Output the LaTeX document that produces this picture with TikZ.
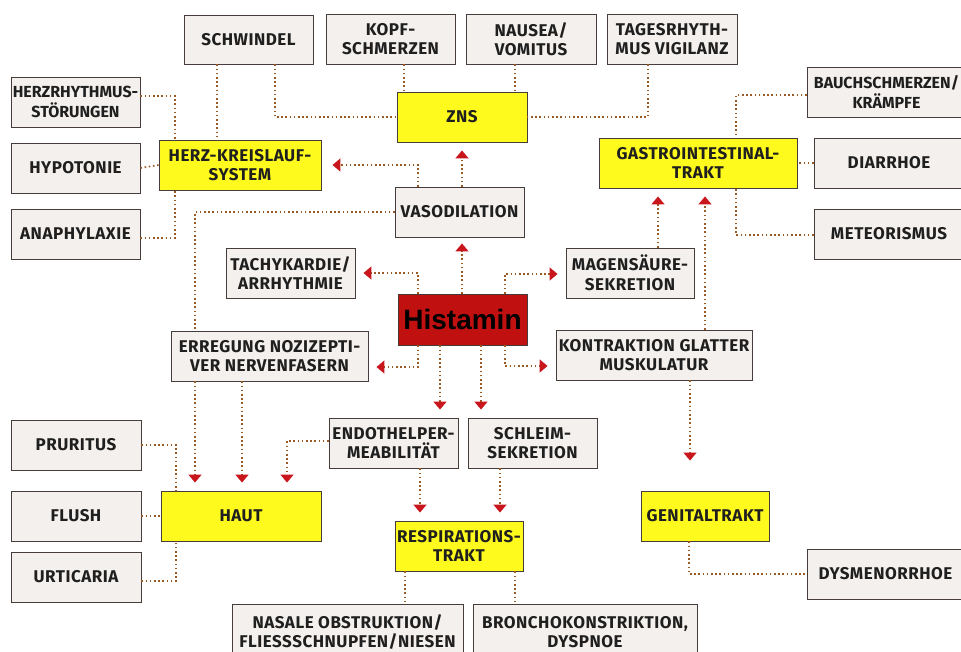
\documentclass[tikz,border=0pt]{standalone}
\usepackage{fontspec}
\setmainfont{Fira Sans}[LetterSpace=3]
\newfontfamily\histfont{Liberation Sans}
\newfontfamily\tightfont{Fira Sans}[LetterSpace=0]
\usetikzlibrary{arrows.meta}
\definecolor{boxfill}{RGB}{243,240,237}
\definecolor{boxline}{RGB}{70,60,60}
\definecolor{yel}{RGB}{255,250,30}
\definecolor{histred}{RGB}{192,16,15}
\definecolor{dotcol}{RGB}{155,90,35}
\definecolor{arrred}{RGB}{200,22,28}
\newcommand{\bx}[7][box]{%
  \node[#1, minimum width=#5-#3, minimum height=#6-#4] (#2) at ({(#3+#5)/2},{(#4+#6)/2}) {#7};}
\begin{document}
\begin{tikzpicture}[x=1pt,y=-1pt,
  box/.style={draw=boxline, fill=boxfill, line width=0.9pt, inner sep=0pt, align=center,
    font=\bfseries\fontsize{17}{19.5}\selectfont, text=black!88},
  tbox/.style={box, font=\tightfont\bfseries\fontsize{16}{19.5}\selectfont},
  ybox/.style={box, fill=yel},
  hbox/.style={box, fill=histred, font=\histfont\bfseries\fontsize{28}{30}\selectfont, text=black},
  con/.style={draw=dotcol, line width=1.7pt, dash pattern=on 1.6pt off 2.6pt},
  arr/.style={con, -{Triangle[width=13pt,length=8pt,color=arrred]}, shorten >=8pt}]
\useasboundingbox (0,0) rectangle (961,651);
\fill[white] (0,0) rectangle (961,651);
% nodes
\bx{sch}{184}{15}{313}{64}{SCHWINDEL}
\bx{kopf}{326}{14}{455}{64}{KOPF-\\SCHMERZEN}
\bx{nau}{466}{14}{596}{64}{NAUSEA/\\VOMITUS}
\bx{tag}{607}{14}{737}{64}{TAGESRHYTH-\\MUS VIGILANZ}
\bx[tbox]{hrs}{11}{77}{140}{127}{HERZRHYTHMUS-\\STÖRUNGEN}
\bx[ybox]{zns}{397}{92}{527}{142}{ZNS}
\bx[tbox]{bau}{807}{67}{966}{117}{BAUCHSCHMERZEN/\\KRÄMPFE}
\bx{hyp}{11}{143}{140}{193}{HYPOTONIE}
\bx[ybox]{hks}{159}{140}{321}{190}{HERZ-KREISLAUF-\\SYSTEM}
\bx[ybox]{git}{599}{138}{797}{188}{GASTROINTESTINAL-\\TRAKT}
\bx{dia}{814}{138}{964}{188}{DIARRHOE}
\bx{vas}{395}{187}{524}{237}{VASODILATION}
\bx{ana}{11}{209}{140}{259}{ANAPHYLAXIE}
\bx{met}{814}{209}{964}{259}{METEORISMUS}
\bx{tach}{226}{248}{355}{298}{TACHYKARDIE/\\ARRHYTHMIE}
\bx{mag}{566}{248}{694}{298}{MAGENSÄURE-\\SEKRETION}
\bx[hbox]{his}{398}{294}{527}{345}{Histamin}
\bx{err}{171}{331}{368}{381}{ERREGUNG NOZIZEPTI-\\VER NERVENFASERN}
\bx{kon}{556}{330}{752}{380}{KONTRAKTION GLATTER\\MUSKULATUR}
\bx{endo}{329}{418}{458}{468}{ENDOTHELPER-\\MEABILITÄT}
\bx{schl}{468}{418}{597}{468}{SCHLEIM-\\SEKRETION}
\bx{pru}{11}{420}{141}{470}{PRURITUS}
\bx{flu}{11}{491}{141}{541}{FLUSH}
\bx[ybox]{haut}{161}{491}{321}{541}{HAUT}
\bx[ybox]{gen}{641}{491}{769}{541}{GENITALTRAKT}
\bx[ybox]{resp}{395}{521}{523}{571}{RESPIRATIONS-\\TRAKT}
\bx{urt}{11}{552}{141}{602}{URTICARIA}
\bx{dys}{807}{549}{964}{599}{DYSMENORRHOE}
\bx{nas}{232}{604}{463}{660}{NASALE OBSTRUKTION/\\FLIESSSCHNUPFEN/NIESEN}
\bx{bro}{473}{604}{697}{660}{BRONCHOKONSTRIKTION,\\DYSPNOE}
% plain dotted connectors
\draw[con] (217,0 |- sch.south) -- (217,0 |- hks.north);
\draw[con] (275,0 |- sch.south) |- (zns.west);
\draw[con] (404,0 |- kopf.south) -- (404,0 |- zns.north);
\draw[con] (515,0 |- nau.south) -- (515,0 |- zns.north);
\draw[con] (648,0 |- tag.south) |- (zns.east);
\draw[con] (hrs.east |- 0,96) -| (175,0 |- hks.north);
\draw[con] (hyp.east) -- (hks.west);
\draw[con] (ana.east |- 0,238) -| (175,0 |- hks.south);
\draw[con] (bau.west |- 0,95) -| (736,0 |- git.north);
\draw[con] (dia.west |- git.east) -- (git.east);
\draw[con] (met.west |- 0,235) -| (736,0 |- git.south);
\draw[con] (pru.east |- 0,445) -| (176,0 |- haut.north);
\draw[con] (flu.east) -- (haut.west);
\draw[con] (urt.east |- 0,581) -| (176,0 |- haut.south);
\draw[con] (689,0 |- gen.south) |- (dys.west);
\draw[con] (405,0 |- resp.south) -- (405,0 |- nas.north);
\draw[con] (515,0 |- resp.south) -- (515,0 |- bro.north);
\draw[con] (vas.west) -| (195,0 |- err.north);
% arrows
\draw[arr, shorten >=6pt] (462,0 |- his.north) -- (462,0 |- vas.south);
\draw[arr] (462,0 |- vas.north) -- (462,0 |- zns.south);
\draw[arr, shorten >=11pt] (418,0 |- vas.north) |- (hks.east);
\draw[arr] (195,0 |- err.south) -- (195,0 |- haut.north);
\draw[arr] (242,0 |- err.south) -- (242,0 |- haut.north);
\draw[arr] (418,0 |- his.north) |- (tach.east);
\draw[arr] (418,0 |- his.south) |- (err.east |- 0,367);
\draw[arr] (505,0 |- his.north) |- (mag.west |- 0,274);
\draw[arr] (505,0 |- his.south) |- (kon.west |- 0,366);
\draw[arr] (440,0 |- his.south) -- (440,0 |- endo.north);
\draw[arr] (481,0 |- his.south) -- (481,0 |- schl.north);
\draw[arr] (endo.west |- 0,441) -| (287,0 |- haut.north);
\draw[arr] (420,0 |- endo.south) -- (420,0 |- resp.north);
\draw[arr] (500,0 |- schl.south) -- (500,0 |- resp.north);
\draw[arr] (658,0 |- mag.north) -- (658,0 |- git.south);
\draw[arr] (705,0 |- kon.north) -- (705,0 |- git.south);
\draw[arr, shorten >=30pt] (690,0 |- kon.south) -- (690,0 |- gen.north);
\end{tikzpicture}
\end{document}
